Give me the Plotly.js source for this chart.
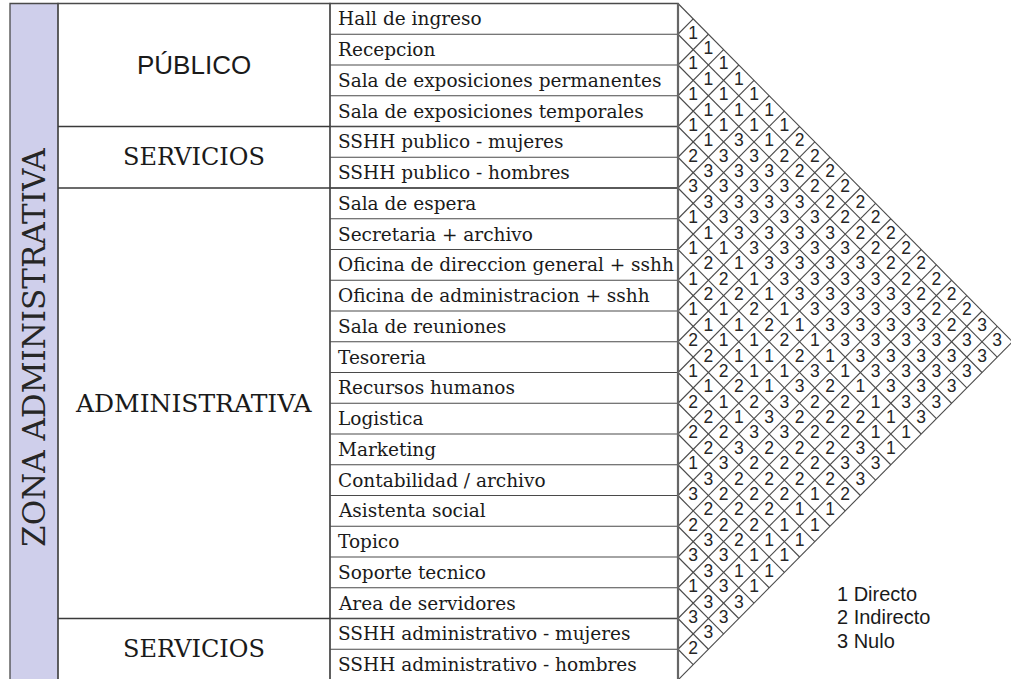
<!DOCTYPE html>
<html>
<head>
<meta charset="utf-8">
<script src="https://cdn.plot.ly/plotly-3.0.1.min.js"></script>
<style>
html,body{margin:0;padding:0;background:#ffffff;}
#chart{width:1011px;height:679px;}
</style>
</head>
<body>
<div id="chart"></div>
<script>
// ---------------- DATA ----------------
const spaces = [
  "Hall de ingreso",
  "Recepcion",
  "Sala de exposiciones permanentes",
  "Sala de exposiciones temporales",
  "SSHH publico - mujeres",
  "SSHH publico - hombres",
  "Sala de espera",
  "Secretaria + archivo",
  "Oficina de direccion general + sshh",
  "Oficina de administracion + sshh",
  "Sala de reuniones",
  "Tesoreria",
  "Recursos humanos",
  "Logistica",
  "Marketing",
  "Contabilidad / archivo",
  "Asistenta social",
  "Topico",
  "Soporte tecnico",
  "Area de servidores",
  "SSHH administrativo - mujeres",
  "SSHH administrativo - hombres"
];
const groupNames = ["PÚBLICO", "SERVICIOS", "ADMINISTRATIVA", "SERVICIOS"];
const groupFirstRow = [0, 4, 6, 20];
const groupLastRow = [3, 5, 19, 21];
const zoneLabel = "ZONA ADMINISTRATIVA";
const legendLabels = ["1 Directo", "2 Indirecto", "3 Nulo"];

// relation of each space with every following space (1 directo, 2 indirecto, 3 nulo)
const rel00 = [1,1,1,1,1,1,1,2,2,2,2,2,2,2,2,2,2,2,2,3,3];
const rel01 = [1,1,1,1,1,1,2,2,2,2,2,2,2,2,2,2,2,2,3,3];
const rel02 = [1,1,1,3,3,3,3,3,3,3,3,3,3,3,3,3,3,3,3];
const rel03 = [1,1,3,3,3,3,3,3,3,3,3,3,3,3,3,3,3,3];
const rel04 = [2,3,3,3,3,3,3,3,3,3,3,3,3,3,3,3,3];
const rel05 = [3,3,3,3,3,3,3,3,3,3,3,3,3,3,3,3];
const rel06 = [1,1,1,1,1,1,1,1,1,1,1,1,1,1,1];
const rel07 = [1,2,2,2,2,2,2,2,3,2,2,2,1,1];
const rel08 = [1,2,1,1,1,1,1,3,2,2,2,3,3];
const rel09 = [1,1,1,1,1,1,3,2,2,2,3,3];
const rel10 = [2,2,2,2,2,3,3,2,2,2,2];
const rel11 = [1,1,1,1,3,2,2,2,1,1];
const rel12 = [2,2,2,3,2,2,2,1,1];
const rel13 = [2,2,3,2,2,2,1,1];
const rel14 = [1,3,2,2,2,1,1];
const rel15 = [3,2,2,2,1,1];
const rel16 = [2,3,3,1,1];
const rel17 = [3,3,3,3];
const rel18 = [1,3,3];
const rel19 = [3,3];
const rel20 = [2];
const relations = [rel00,rel01,rel02,rel03,rel04,rel05,rel06,rel07,rel08,rel09,rel10,
                   rel11,rel12,rel13,rel14,rel15,rel16,rel17,rel18,rel19,rel20];

// ---------------- LAYOUT CONSTANTS ----------------
const W = 1011, H = 679;
const DIAMOND_X0 = 678;   // pixel where the diamond grid starts
const UNIT_X = 15.2;      // pixel per diamond half-width
const ROW_TOP = 3.5;      // pixel of first row line
const ROW_H = 30.75;      // pixel per row
const COL_ZONE = [10, 58];
const COL_GROUP = [58, 330];
const COL_NAME = [330, DIAMOND_X0];
const px = v => v / W;

const SERIF = "'DejaVu Serif', 'Liberation Serif', serif";
const SANS = "'Liberation Sans', Arial, sans-serif";

const n = spaces.length;
const lineCol = "#4a4a4a";
const textCol = "#1a1a1a";

// ---------------- MATRIX CELLS ----------------
const cellX = [], cellY = [], cellT = [];
relations.forEach((row, i) => {
  row.forEach((v, k) => {
    const j = i + 1 + k;
    cellX.push(j - i);
    cellY.push((i + j + 1) / 2);
    cellT.push(String(v));
  });
});

// lattice lines
const lx = [], ly = [];
for (let k = 0; k < n; k++) { lx.push(0, n - k, null); ly.push(k, (n + k) / 2, null); }
for (let k = 1; k <= n; k++) { lx.push(0, k, null); ly.push(k, k / 2, null); }

const traces = [
  {
    type: "scatter", mode: "lines", x: lx, y: ly,
    line: {color: lineCol, width: 1.1}, hoverinfo: "skip", showlegend: false
  },
  {
    type: "scatter", mode: "text", x: cellX, y: cellY, text: cellT,
    textposition: "middle center",
    textfont: {family: SANS, size: 17.5, color: "#262626"},
    hoverinfo: "skip", showlegend: false
  }
];

// ---------------- TABLE SHAPES ----------------
const shapes = [];
shapes.push({type: "rect", xref: "paper", yref: "y", x0: px(COL_ZONE[0]), x1: px(COL_ZONE[1]), y0: 0, y1: n,
  fillcolor: "#cfcfeb", line: {color: lineCol, width: 1.3}, layer: "below"});
shapes.push({type: "rect", xref: "paper", yref: "y", x0: px(COL_GROUP[0]), x1: px(COL_GROUP[1]), y0: 0, y1: n,
  fillcolor: "rgba(0,0,0,0)", line: {color: lineCol, width: 1.3}});
shapes.push({type: "rect", xref: "paper", yref: "y", x0: px(COL_NAME[0]), x1: px(COL_NAME[1]), y0: 0, y1: n,
  fillcolor: "rgba(0,0,0,0)", line: {color: lineCol, width: 1.3}});
groupFirstRow.forEach(r => {
  if (r > 0) shapes.push({type: "line", xref: "paper", yref: "y", x0: px(COL_GROUP[0]), x1: px(COL_NAME[1]), y0: r, y1: r,
    line: {color: "#3a3a3a", width: 1.6}});
});
for (let k = 1; k < n; k++) {
  shapes.push({type: "line", xref: "paper", yref: "y", x0: px(COL_NAME[0]), x1: px(COL_NAME[1]), y0: k, y1: k,
    line: {color: lineCol, width: 1.2}});
}
shapes.push({type: "line", xref: "x", yref: "y", x0: 0, x1: 0, y0: 0, y1: n,
  line: {color: "#666", width: 2.2}});

// ---------------- TEXT ----------------
const annotations = [];
spaces.forEach((s, k) => {
  annotations.push({xref: "paper", yref: "y", x: px(COL_NAME[0] + 6), y: k + 0.5, text: s,
    xanchor: "left", yanchor: "middle", showarrow: false,
    font: {family: SERIF, size: 18.5, color: textCol}});
});
groupNames.forEach((g, gi) => {
  const sans = gi === 0;
  annotations.push({xref: "paper", yref: "y", x: px((COL_GROUP[0] + COL_GROUP[1]) / 2),
    y: (groupFirstRow[gi] + groupLastRow[gi] + 1) / 2, text: g,
    xanchor: "center", yanchor: "middle", showarrow: false,
    font: {family: sans ? SANS : SERIF, size: sans ? 26 : (gi === 2 ? 25 : 24), color: textCol}});
});
annotations.push({xref: "paper", yref: "y", x: px((COL_ZONE[0] + COL_ZONE[1]) / 2), y: n / 2 + 0.2,
  text: zoneLabel, textangle: -90, xanchor: "center", yanchor: "middle", showarrow: false,
  font: {family: SERIF, size: 31, color: "#262626"}});
legendLabels.forEach((t, li) => {
  annotations.push({xref: "paper", yref: "y", x: px(835), y: 19.2 + li * 0.76, text: t,
    xanchor: "left", yanchor: "middle", showarrow: false,
    font: {family: SANS, size: 20, color: textCol}});
});

const layout = {
  width: W, height: H,
  margin: {l: 0, r: 0, t: 0, b: 0, pad: 0},
  paper_bgcolor: "#ffffff", plot_bgcolor: "#ffffff",
  showlegend: false,
  xaxis: {range: [-DIAMOND_X0 / UNIT_X, (W - DIAMOND_X0) / UNIT_X], visible: false, fixedrange: true},
  yaxis: {range: [(H - ROW_TOP) / ROW_H, -ROW_TOP / ROW_H], visible: false, fixedrange: true},
  shapes: shapes,
  annotations: annotations
};

Plotly.newPlot("chart", traces, layout, {staticPlot: true, displayModeBar: false});
</script>
</body>
</html>
